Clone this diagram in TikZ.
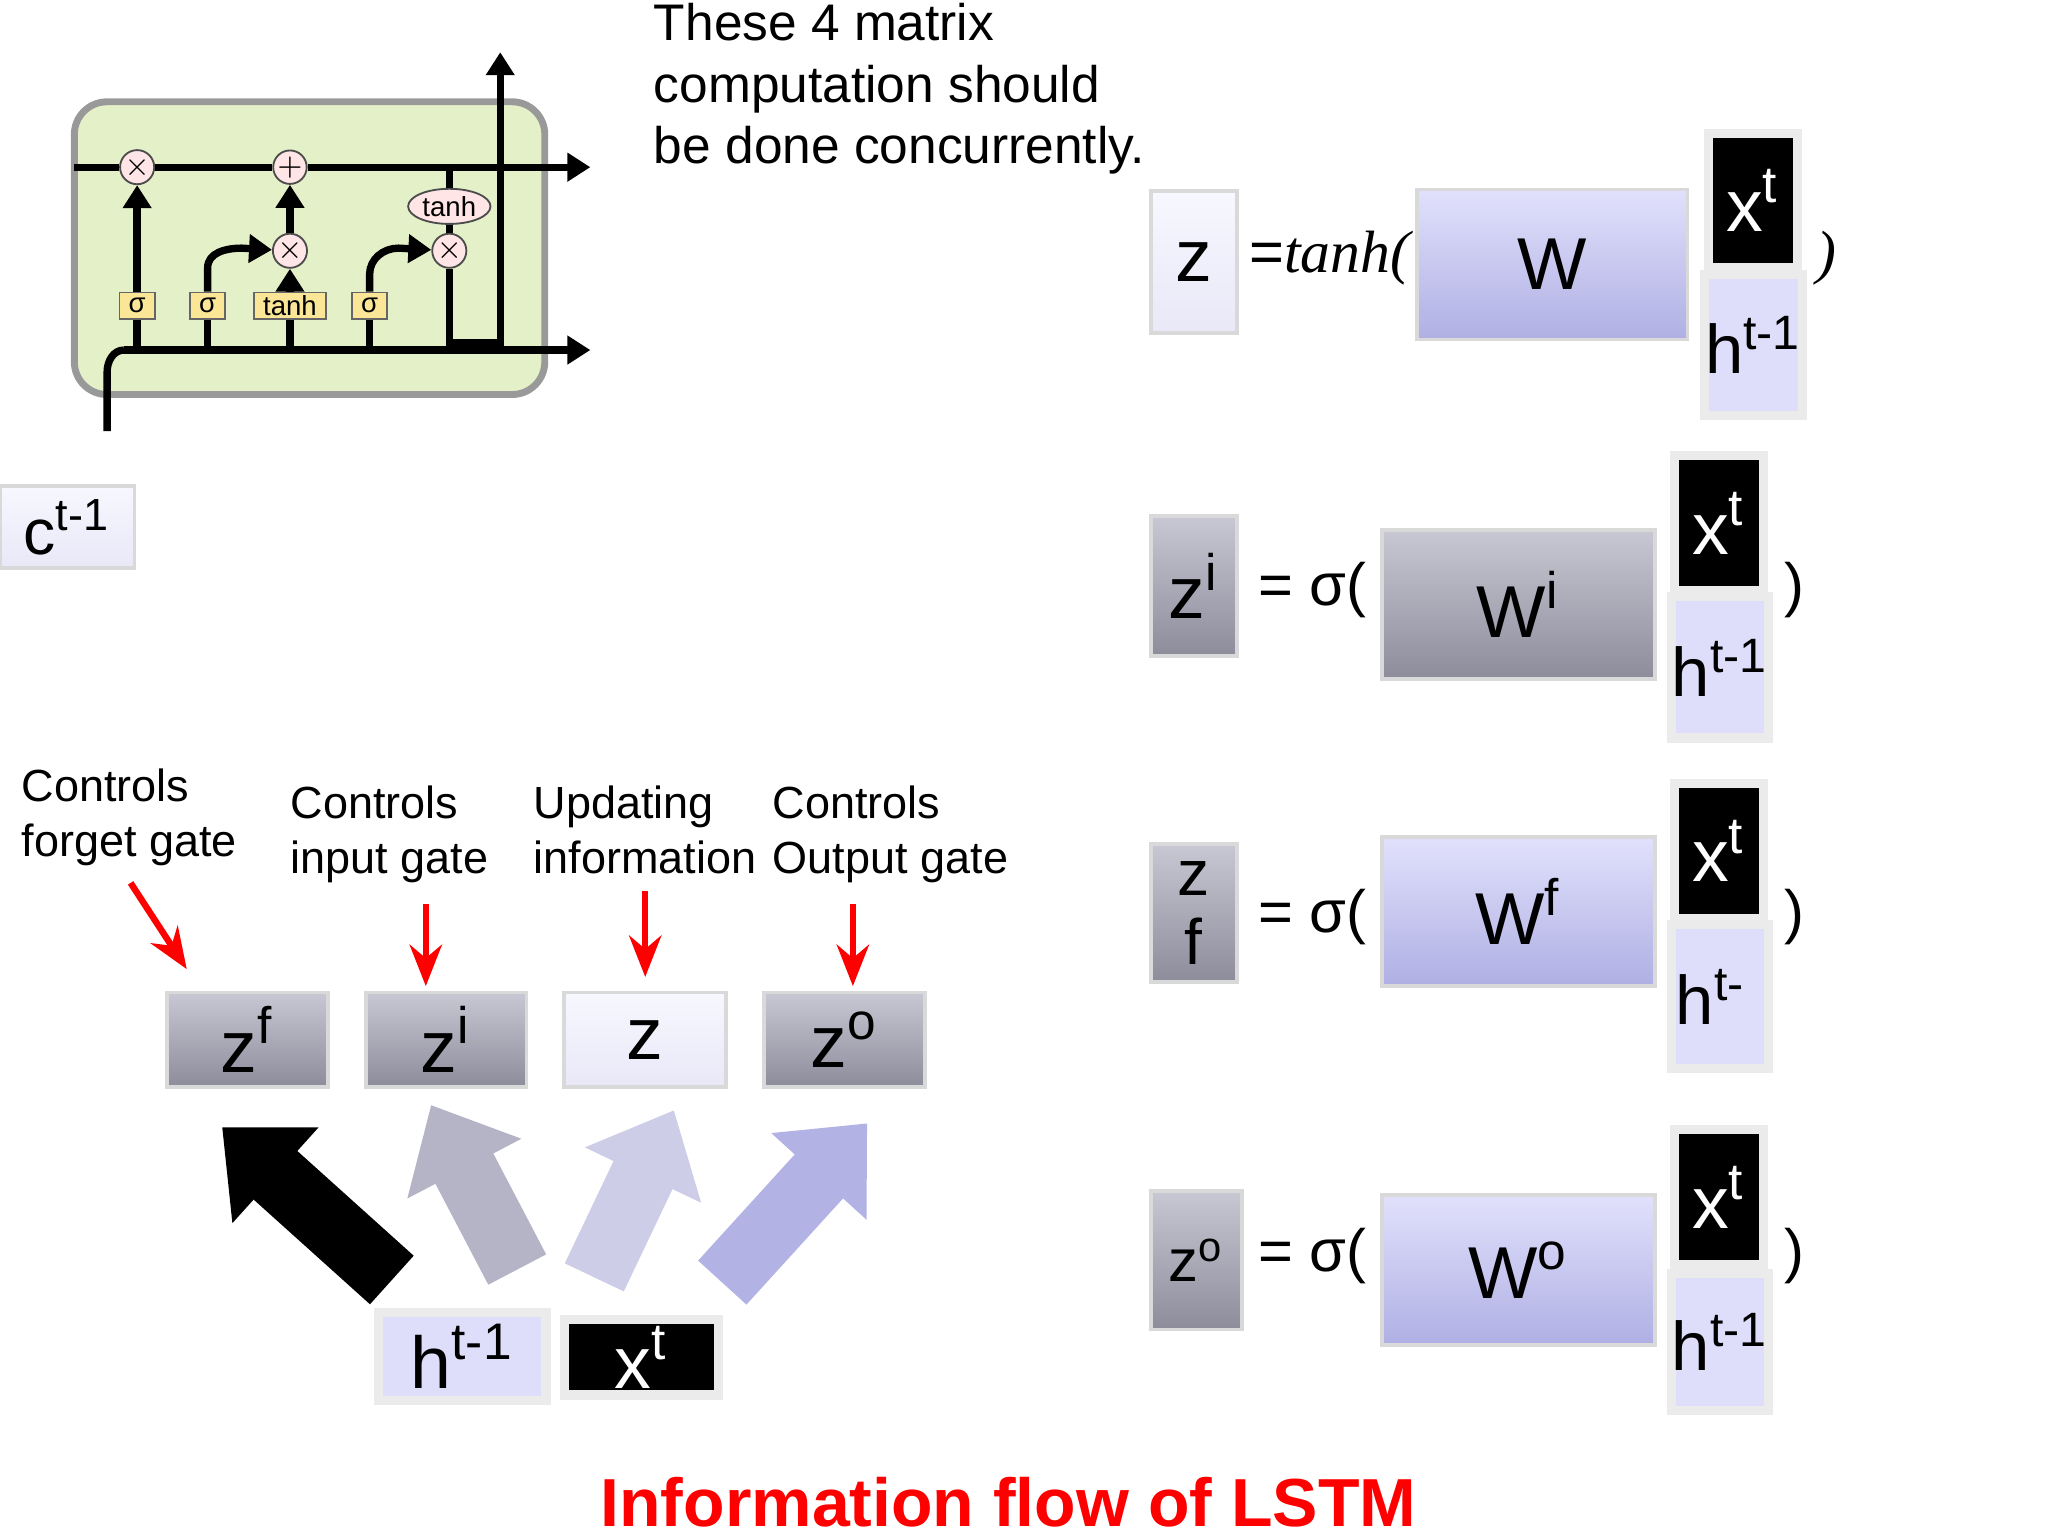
\documentclass[tikz,border=0pt]{standalone}
\usepackage{fontspec}
\setmainfont{Liberation Sans}
\usetikzlibrary{arrows.meta,shapes.geometric}
\definecolor{gtop}{RGB}{200,200,212}
\definecolor{gbot}{RGB}{140,140,155}
\definecolor{ltop}{RGB}{225,225,252}
\definecolor{lbot}{RGB}{175,175,228}
\definecolor{pale}{RGB}{232,232,248}
\definecolor{lav}{RGB}{222,222,250}
\definecolor{cellg}{RGB}{228,240,200}
\definecolor{gatey}{RGB}{250,230,150}
\newcommand{\supr}[1]{\textsuperscript{#1}}
\newcommand{\mybox}[7]{\node[#6, minimum width={(#4-#2)*0.01cm}, minimum height={(#5-#3)*0.01cm}] (#1) at ({(#2+#4)/2},{(#3+#5)/2}) {#7};}
\begin{document}
\begin{tikzpicture}[x=0.01cm,y=-0.01cm,
  bx/.style={draw=black!15, line width=0.8pt, inner sep=0pt, font=\fontsize{16}{18}\selectfont},
  grey/.style={bx, top color=gtop, bottom color=gbot},
  lavg/.style={bx, top color=ltop, bottom color=lbot},
  light/.style={bx, top color=white!97!blue, bottom color=pale},
  lavb/.style={bx, fill=lav, draw=white!92!black, line width=2pt},
  blk/.style={bx, fill=black, text=white, draw=white!92!black, line width=2pt},
  lbl/.style={font=\fontsize{9.8}{12}\selectfont, align=left, anchor=north west, inner sep=0},
  red/.style={draw=red, line width=1.4pt, -{Stealth[length=9pt,width=7pt]}},
  big/.style={line width=0.5cm, -{Triangle[length=0.55cm 0 0,width=0.95cm 0 0]}},
  eq/.style={font=\fontsize{16}{18}\selectfont, inner sep=0},
  gate/.style={draw=black!60, fill=gatey, inner sep=0pt, minimum height=0.2cm, minimum width=0.27cm, font=\fontsize{6}{7}\selectfont},
  op/.style={circle, draw=black!70, fill=pink!40, inner sep=0, minimum size=0.2cm, font=\fontsize{6}{6}\selectfont},
  ln/.style={line width=1.6pt},
  la/.style={ln, -{Triangle[length=5pt,width=6pt]}}]
\useasboundingbox (0,0) rectangle (1568,1176);
% LSTM cell
\node[draw=black!40, fill=cellg, rounded corners=0.25cm, line width=1.5pt, minimum width=3.6cm, minimum height=2.24cm] (cell) at (237,190) {};
\coordinate (tl) at (57,128); \coordinate (tr) at (452,128);
\coordinate (bl) at (95,268); \coordinate (br) at (452,268);
\coordinate (hin) at (82,330);
\coordinate (up0) at (383,112); \coordinate (up1) at (383,40);
\node[op] (m1) at (105,128) {$\times$};
\node[op] (p1) at (222,128) {$+$};
\node[op] (m2) at (222,192) {$\times$};
\node[op] (m3) at (344,192) {$\times$};
\node[ellipse, draw=black!70, fill=pink!40, inner sep=0.5pt, font=\fontsize{6}{7}\selectfont] (th) at (344,158) {tanh};
\node[gate] (g1) at (105,234) {σ};
\node[gate] (g2) at (159,234) {σ};
\node[gate, minimum width=0.55cm] (g3) at (222,234) {tanh};
\node[gate] (g4) at (283,234) {σ};
\draw[ln] (tl) -- (m1) -- (p1) -- (th.north |- tl);
\draw[la] (th.north |- tl) -- (tr);
\draw[ln] (hin) -- (82,285) to[out=90,in=180] (bl);
\draw[la] (bl) -- (br);
\draw[la] (g1) -- (m1);
\draw[la] (g2.north) -- (159,205) to[out=90,in=180] (185,190) -- (m2);
\draw[la] (g3.north) -- (m2);
\draw[la] (m2) -- (p1);
\draw[la] (g4.north) -- (283,210) to[out=90,in=180] (305,190) -- (m3);
\draw[ln] (th.north |- tl) -- (th);
\draw[ln] (th) -- (m3);
\draw[ln] (m3) -- (344,262) -- (383,262) -- (up0);
\draw[la] (up0) -- (up1);
\foreach \g in {g1,g2,g3,g4} \draw[ln] (\g.south) -- (\g |- bl);
% text
\node[lbl, font=\fontsize{11.2}{13.4}\selectfont] (note) at (500,2) {These 4 matrix\\computation should\\be done concurrently.};
\mybox{ct}{0}{372}{103}{435}{light}{\fontsize{14}{16}\selectfont c\supr{t-1}}
% row 1
\mybox{z1}{881}{146}{947}{255}{light}{z}
\node[eq, font=\fontsize{13}{15}\selectfont] (e1) at (1018,198) {=\itshape\fontspec{Liberation Serif}tanh(};
\mybox{W1}{1085}{145}{1292}{260}{lavg}{W}
\mybox{x1}{1308}{102}{1376}{205}{blk}{x\supr{t}}
\mybox{h1}{1305}{210}{1380}{318}{lavb}{\fontsize{15}{17}\selectfont h\supr{t-1}}
\node[eq, font=\fontsize{13}{15}\selectfont\itshape\fontspec{Liberation Serif}] (c1) at (1398,198) {)};
% row 2
\mybox{z2}{881}{395}{947}{502}{grey}{z\supr{i}}
\node[eq, font=\fontsize{13}{15}\selectfont] (e2) at (1005,452) {= σ(};
\mybox{W2}{1058}{406}{1267}{520}{grey}{W\supr{i}}
\mybox{x2}{1282}{349}{1350}{452}{blk}{x\supr{t}}
\mybox{h2}{1280}{457}{1354}{565}{lavb}{\fontsize{15}{17}\selectfont h\supr{t-1}}
\node[eq, font=\fontsize{13}{15}\selectfont] (c2) at (1374,452) {)};
% row 3
\mybox{z3}{881}{646}{947}{752}{grey}{\fontsize{14}{14}\selectfont\shortstack{z\\[2pt]f}}
\node[eq, font=\fontsize{13}{15}\selectfont] (e3) at (1005,702) {= σ(};
\mybox{W3}{1058}{641}{1267}{755}{lavg}{W\supr{f}}
\mybox{x3}{1282}{600}{1350}{703}{blk}{x\supr{t}}
\mybox{h3}{1280}{708}{1354}{818}{lavb}{\fontsize{15}{17}\selectfont\hspace*{-4pt}h\supr{t-}}
\node[eq, font=\fontsize{13}{15}\selectfont] (c3) at (1374,702) {)};
% row 4
\mybox{z4}{881}{912}{951}{1018}{grey}{\fontsize{13}{15}\selectfont z\supr{o}}
\node[eq, font=\fontsize{13}{15}\selectfont] (e4) at (1005,962) {= σ(};
\mybox{W4}{1058}{915}{1267}{1030}{lavg}{W\supr{o}}
\mybox{x4}{1282}{865}{1350}{968}{blk}{x\supr{t}}
\mybox{h4}{1280}{975}{1354}{1080}{lavb}{\fontsize{15}{17}\selectfont h\supr{t-1}}
\node[eq, font=\fontsize{13}{15}\selectfont] (c4) at (1374,962) {)};
% bottom left
\mybox{bf}{128}{760}{251}{832}{grey}{z\supr{f}}
\mybox{bi}{280}{760}{403}{832}{grey}{z\supr{i}}
\mybox{bz}{432}{760}{556}{832}{light}{z}
\mybox{bo}{585}{760}{708}{832}{grey}{z\supr{o}}
\node[lbl] (l1) at (16,588) {Controls\\forget gate};
\node[lbl] (l2) at (222,601) {Controls\\input gate};
\node[lbl] (l3) at (408,601) {Updating\\information};
\node[lbl] (l4) at (591,601) {Controls\\Output gate};
\coordinate (r1) at (100,676); \coordinate (r1e) at (143,742);
\draw[red] (r1) -- (r1e);
\draw[red] (326,692) -- (326,755);
\draw[red] (494,682) -- (494,748);
\draw[red] (653,692) -- (653,755);
\mybox{bh}{290}{1005}{418}{1072}{lavb}{h\supr{t-1}}
\mybox{bx}{432}{1010}{550}{1068}{blk}{x\supr{t}}
\coordinate (a1s) at (300,980); \coordinate (a1e) at (170,863);
\coordinate (a2s) at (396,972); \coordinate (a2e) at (330,846);
\coordinate (a3s) at (455,978); \coordinate (a3e) at (516,850);
\coordinate (a4s) at (553,982); \coordinate (a4e) at (664,860);
\draw[big, black] (a1s) -- (a1e);
\draw[big, draw={rgb,255:red,180;green,180;blue,198}, fill={rgb,255:red,180;green,180;blue,198}] (a2s) -- (a2e);
\draw[big, draw={rgb,255:red,205;green,205;blue,232}, fill={rgb,255:red,205;green,205;blue,232}] (a3s) -- (a3e);
\draw[big, draw={rgb,255:red,178;green,178;blue,228}, fill={rgb,255:red,178;green,178;blue,228}] (a4s) -- (a4e);
\node[font=\fontsize{14.8}{17}\selectfont\bfseries, text=red, inner sep=0] (title) at (772,1150) {Information flow of LSTM};
\end{tikzpicture}
\end{document}
